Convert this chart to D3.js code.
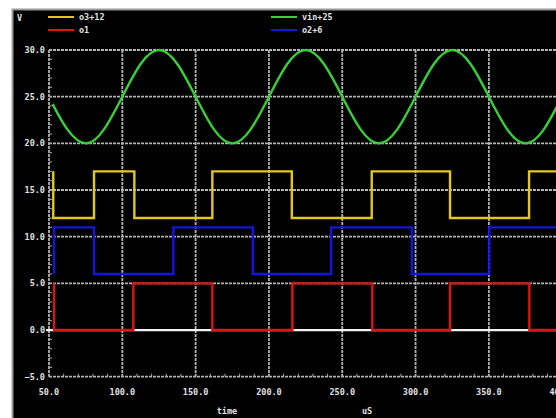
<!DOCTYPE html>
<html>
<head>
<meta charset="utf-8">
<script src="https://cdn.jsdelivr.net/npm/d3@7"></script>
<style>
  body { margin: 0; background: #fff; }
  svg text { font-family: "DejaVu Sans Mono", monospace; font-weight: bold; font-size: 8.5px; fill: #e0e0e0; }
</style>
</head>
<body>
<div id="chart"></div>
<script>
// tick labels
var xTicks = [50, 100, 150, 200, 250, 300, 350, 400];
var yTicks = [-5, 0, 5, 10, 15, 20, 25, 30];

// vin+25 (green)
var vinTime = [52.5, 62.5, 75, 87.5, 100, 112.5, 125, 137.5, 150, 162.5, 175, 187.5, 200, 212.5, 225,
               237.5, 250, 262.5, 275, 287.5, 300, 312.5, 325, 337.5, 350, 362.5, 375, 387.5, 400, 412.5];
var vinValue = [24.2, 21.5, 20.0, 21.5, 25.0, 28.5, 30.0, 28.5, 25.0, 21.5, 20.0, 21.5, 25.0, 28.5, 30.0,
                28.5, 25.0, 21.5, 20.0, 21.5, 25.0, 28.5, 30.0, 28.5, 25.0, 21.5, 20.0, 21.5, 25.0, 28.5];

// o3+12 (yellow)
var o3Time = [52.9, 52.9, 80.7, 108.2, 161.4, 215.6, 270.1, 323.5, 377.4, 420];
var o3Value = [17, 12, 17, 12, 17, 12, 17, 12, 17, 17];

// o2+6 (blue)
var o2Time = [53.5, 53.5, 80.7, 134.8, 189, 242.4, 297.5, 350.3, 420];
var o2Value = [6, 11, 6, 11, 6, 11, 6, 11, 11];

// o1 (red)
var o1Time = [53.5, 53.5, 107.5, 161.4, 216, 270.5, 323.5, 377.6, 420];
var o1Value = [5, 0, 5, 0, 5, 0, 5, 0, 0];

var width = 556,
    height = 418;

var svg = d3.select("#chart")
            .append("svg")
            .attr("width", width)
            .attr("height", height);

// black screen with grey border
svg.append("rect")
   .attr("x", 12).attr("y", 9)
   .attr("width", width - 12).attr("height", height - 9)
   .attr("fill", "#000");
svg.append("path")
   .attr("d", "M12.5," + height + "V9.5H" + width)
   .attr("stroke", "#9a9a9a")
   .attr("stroke-width", 2)
   .attr("fill", "none");

var x = d3.scaleLinear().domain([50, 400]).range([49, 562.2]);
var y = d3.scaleLinear().domain([-5, 30]).range([376.7, 50]);

var plotRight = 600;

// grid
svg.selectAll(".hgrid")
   .data(yTicks)
   .enter()
   .append("line")
   .attr("class", "hgrid")
   .attr("x1", x(50)).attr("x2", plotRight)
   .attr("y1", function(d) { return y(d); })
   .attr("y2", function(d) { return y(d); })
   .attr("stroke", "#b4b4b4")
   .attr("stroke-width", 1.8)
   .attr("stroke-dasharray", "3,1");

svg.selectAll(".vgrid")
   .data(xTicks)
   .enter()
   .append("line")
   .attr("class", "vgrid")
   .attr("x1", function(d) { return x(d); })
   .attr("x2", function(d) { return x(d); })
   .attr("y1", y(30)).attr("y2", y(-5))
   .attr("stroke", "#b4b4b4")
   .attr("stroke-width", 1.8)
   .attr("stroke-dasharray", "3,1");

// minor ticks on the frame
var yMinor = d3.range(-5, 30.01, 1);
svg.selectAll(".ym")
   .data(yMinor)
   .enter()
   .append("line")
   .attr("class", "ym")
   .attr("x1", x(50)).attr("x2", x(50) + 3)
   .attr("y1", function(d) { return y(d); })
   .attr("y2", function(d) { return y(d); })
   .attr("stroke", "#a8a8a8");

var xMinor = d3.range(50, 400.01, 10);
svg.selectAll(".xm")
   .data(xMinor)
   .enter()
   .append("line")
   .attr("class", "xm")
   .attr("x1", function(d) { return x(d); })
   .attr("x2", function(d) { return x(d); })
   .attr("y1", y(-5)).attr("y2", y(-5) - 3)
   .attr("stroke", "#a8a8a8");

// zero line
svg.append("line")
   .attr("x1", x(50) - 3).attr("x2", plotRight)
   .attr("y1", y(0)).attr("y2", y(0))
   .attr("stroke", "#f2f2f2")
   .attr("stroke-width", 2.2);

// axis labels
svg.selectAll(".ylab")
   .data(yTicks)
   .enter()
   .append("text")
   .attr("class", "ylab")
   .attr("x", 45)
   .attr("y", function(d) { return y(d) + 3; })
   .attr("text-anchor", "end")
   .text(function(d) { return d3.format(".1f")(d); });

svg.selectAll(".xlab")
   .data(xTicks)
   .enter()
   .append("text")
   .attr("class", "xlab")
   .attr("x", function(d) { return x(d); })
   .attr("y", 395)
   .attr("text-anchor", "middle")
   .text(function(d) { return d3.format(".1f")(d); });

svg.append("text").attr("x", 227).attr("y", 414).attr("text-anchor", "middle").text("time");
svg.append("text").attr("x", 367).attr("y", 414).attr("text-anchor", "middle").text("uS");

// traces
var traces = [
    { time: vinTime, value: vinValue, color: "#39cf39", curve: d3.curveNatural },
    { time: o3Time, value: o3Value, color: "#e2c81a", curve: d3.curveStepAfter },
    { time: o2Time, value: o2Value, color: "#1414e0", curve: d3.curveStepAfter },
    { time: o1Time, value: o1Value, color: "#dc1414", curve: d3.curveStepAfter }
];

traces.forEach(function(t) {
    var line = d3.line()
                 .x(function(d, i) { return x(t.time[i]); })
                 .y(function(d) { return y(d); })
                 .curve(t.curve);
    svg.append("path")
       .datum(t.value)
       .attr("d", line)
       .attr("fill", "none")
       .attr("stroke", t.color)
       .attr("stroke-width", 2.4);
});

// legend
svg.append("text").attr("x", 17).attr("y", 21).text("V");

var legend = [
    { label: "o3+12", color: "#e2c81a", lx: 48, ly: 17 },
    { label: "o1", color: "#dc1414", lx: 48, ly: 30 },
    { label: "vin+25", color: "#39cf39", lx: 271, ly: 17 },
    { label: "o2+6", color: "#1414e0", lx: 271, ly: 30 }
];

legend.forEach(function(l) {
    svg.append("line")
       .attr("x1", l.lx).attr("x2", l.lx + 26)
       .attr("y1", l.ly).attr("y2", l.ly)
       .attr("stroke", l.color)
       .attr("stroke-width", 2);
    svg.append("text")
       .attr("x", l.lx + 31)
       .attr("y", l.ly + 3)
       .text(l.label);
});
</script>
</body>
</html>
